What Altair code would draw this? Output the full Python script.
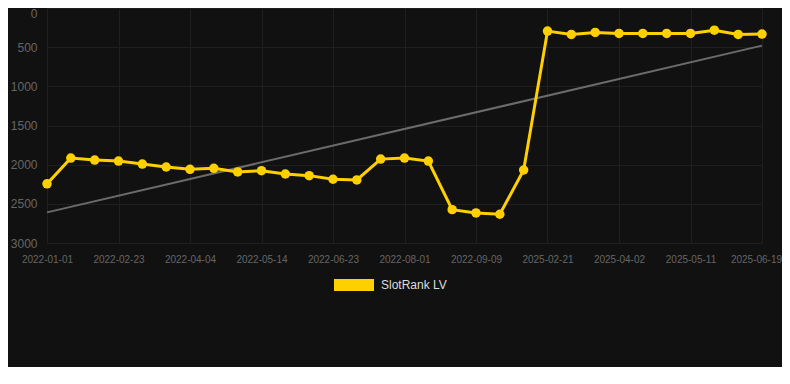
import altair as alt
import pandas as pd

# Ranks (lower is better, axis reversed)
ranks = [2245, 1916, 1941, 1954, 1992, 2030, 2060, 2047, 2093, 2077,
         2119, 2140, 2186, 2195, 1929, 1916, 1954, 2574, 2616, 2633,
         2068, 295, 337, 312, 325, 325, 325, 325, 283, 337, 333]
tick_labels = ["2022-01-01", "2022-02-23", "2022-04-04", "2022-05-14",
               "2022-06-23", "2022-08-01", "2022-09-09", "2025-02-21",
               "2025-04-02", "2025-05-11", "2025-06-19"]
series_name = "SlotRank LV"

df = pd.DataFrame({
    "idx": list(range(len(ranks))),
    "rank": ranks,
    "series": [series_name] * len(ranks),
})

GOLD = "#FFD000"
BG = "#111111"
GRID = "#1f1f1f"
LABEL = "#666666"

last = len(ranks) - 1
label_expr = "[" + ",".join(f"'{t}'" for t in tick_labels) + "][round(datum.value/3)]"

x = alt.X("idx:Q",
          scale=alt.Scale(domain=[0, last], nice=False, zero=False),
          axis=alt.Axis(values=list(range(0, len(ranks), 3)), labelExpr=label_expr,
                        title=None, grid=True, gridColor=GRID, domain=False,
                        ticks=False, labelColor=LABEL, labelFontSize=10,
                        labelPadding=11, labelFont="Arial", labelOverlap=False,
                        labelFlush=False,
                        labelOffset={"condition": {"test": f"datum.value == {last}", "value": -6},
                                     "value": 0}))
y = alt.Y("rank:Q",
          scale=alt.Scale(domain=[0, 3000], reverse=True, nice=False),
          axis=alt.Axis(values=[0, 500, 1000, 1500, 2000, 2500, 3000], format="d",
                        title=None, grid=True, gridColor=GRID, domain=False,
                        ticks=False, labelColor=LABEL, labelFontSize=12,
                        labelPadding=10, labelFont="Arial", labelOverlap=False,
                        labelFlush=False,
                        labelBaseline={"condition": {"test": "datum.value == 0", "value": "top"},
                                       "value": "middle"}))

color = alt.Color("series:N",
                  scale=alt.Scale(domain=[series_name], range=[GOLD]),
                  legend=alt.Legend(title=None, orient="none", legendX=287, legendY=257,
                                    symbolType="M-1,-0.3H1V0.3H-1Z", symbolSize=1600,
                                    symbolFillColor=GOLD, symbolStrokeWidth=0,
                                    labelColor="#dddddd", labelFontSize=12,
                                    labelFont="Arial", padding=0, labelOffset=7))

base = alt.Chart(df)

trend = base.transform_regression("idx", "rank").mark_line(
    color="#6b6b6b", strokeWidth=2).encode(x=x, y=y)

line = base.mark_line(strokeWidth=3).encode(x=x, y=y, color=color)
points = base.mark_point(filled=True, size=90, opacity=1).encode(x=x, y=y, color=color)

chart = alt.layer(trend, line, points).properties(
    width=715, height=235,
    background=BG,
    autosize=alt.AutoSizeParams(type="none"),
    padding={"left": 39, "top": 0, "right": 20, "bottom": 124},
).configure_view(stroke=None)

chart.save("out.html", embed_options={"renderer": "svg", "actions": False})
